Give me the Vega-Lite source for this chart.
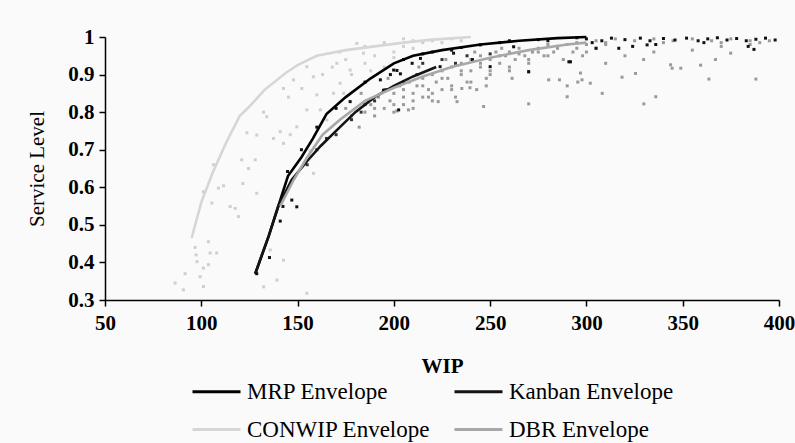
{
 "$schema": "https://vega.github.io/schema/vega-lite/v6.json",
 "width": 674, "height": 263,
 "autosize": {"type": "none"},
 "padding": {"left": 105, "top": 37, "right": 16, "bottom": 143},
 "background": "#fafafa",
 "config": {
  "font": "Liberation Serif, Times New Roman, DejaVu Serif, serif",
  "view": {"stroke": null},
  "axis": {"grid": false, "domainColor": "#000", "domainWidth": 1.5, "tickColor": "#000", "tickWidth": 1.5, "tickSize": 6,
   "labelFlush": false,
   "labelFont": "Liberation Serif, Times New Roman, serif", "labelFontSize": 21, "labelColor": "#000", "labelFontWeight": "bold",
   "titleFont": "Liberation Serif, Times New Roman, serif", "titleFontSize": 21, "titleColor": "#000", "titleFontWeight": "normal"},
  "legend": {"labelFont": "Liberation Serif, Times New Roman, serif"}
 },
 "datasets": {
  "env": [
   {"s":"MRP Envelope","x":128,"y":0.37},{"s":"MRP Envelope","x":135,"y":0.47},{"s":"MRP Envelope","x":140,"y":0.55},{"s":"MRP Envelope","x":145,"y":0.63},{"s":"MRP Envelope","x":152,"y":0.68},{"s":"MRP Envelope","x":158,"y":0.73},{"s":"MRP Envelope","x":165,"y":0.795},{"s":"MRP Envelope","x":175,"y":0.84},{"s":"MRP Envelope","x":188,"y":0.89},{"s":"MRP Envelope","x":200,"y":0.93},{"s":"MRP Envelope","x":210,"y":0.95},{"s":"MRP Envelope","x":225,"y":0.965},{"s":"MRP Envelope","x":245,"y":0.98},{"s":"MRP Envelope","x":265,"y":0.99},{"s":"MRP Envelope","x":285,"y":0.997},{"s":"MRP Envelope","x":300,"y":1.0},
   {"s":"Kanban Envelope","x":128,"y":0.37},{"s":"Kanban Envelope","x":135,"y":0.47},{"s":"Kanban Envelope","x":140,"y":0.55},{"s":"Kanban Envelope","x":147,"y":0.62},{"s":"Kanban Envelope","x":155,"y":0.67},{"s":"Kanban Envelope","x":162,"y":0.71},{"s":"Kanban Envelope","x":170,"y":0.75},{"s":"Kanban Envelope","x":180,"y":0.8},{"s":"Kanban Envelope","x":190,"y":0.84},{"s":"Kanban Envelope","x":200,"y":0.87},{"s":"Kanban Envelope","x":210,"y":0.895},{"s":"Kanban Envelope","x":222,"y":0.92},
   {"s":"CONWIP Envelope","x":95,"y":0.465},{"s":"CONWIP Envelope","x":100,"y":0.56},{"s":"CONWIP Envelope","x":106,"y":0.64},{"s":"CONWIP Envelope","x":113,"y":0.72},{"s":"CONWIP Envelope","x":120,"y":0.79},{"s":"CONWIP Envelope","x":125,"y":0.815},{"s":"CONWIP Envelope","x":133,"y":0.86},{"s":"CONWIP Envelope","x":144,"y":0.905},{"s":"CONWIP Envelope","x":150,"y":0.925},{"s":"CONWIP Envelope","x":160,"y":0.95},{"s":"CONWIP Envelope","x":175,"y":0.965},{"s":"CONWIP Envelope","x":190,"y":0.975},{"s":"CONWIP Envelope","x":205,"y":0.985},{"s":"CONWIP Envelope","x":220,"y":0.993},{"s":"CONWIP Envelope","x":240,"y":1.0},
   {"s":"DBR Envelope","x":141,"y":0.55},{"s":"DBR Envelope","x":148,"y":0.62},{"s":"DBR Envelope","x":155,"y":0.68},{"s":"DBR Envelope","x":163,"y":0.74},{"s":"DBR Envelope","x":172,"y":0.78},{"s":"DBR Envelope","x":185,"y":0.83},{"s":"DBR Envelope","x":200,"y":0.865},{"s":"DBR Envelope","x":215,"y":0.895},{"s":"DBR Envelope","x":230,"y":0.92},{"s":"DBR Envelope","x":250,"y":0.945},{"s":"DBR Envelope","x":270,"y":0.965},{"s":"DBR Envelope","x":290,"y":0.98},{"s":"DBR Envelope","x":300,"y":0.985}
  ],
  "pts": [
   {"m":"CONWIP","x":86.4,"y":0.345},{"m":"CONWIP","x":91.6,"y":0.37},{"m":"CONWIP","x":90.7,"y":0.327},{"m":"CONWIP","x":96.8,"y":0.44},{"m":"CONWIP","x":97.3,"y":0.42},{"m":"CONWIP","x":97.8,"y":0.402},{"m":"CONWIP","x":99.4,"y":0.362},{"m":"CONWIP","x":101.1,"y":0.336},{"m":"CONWIP","x":101.1,"y":0.385},{"m":"CONWIP","x":103.7,"y":0.394},{"m":"CONWIP","x":103.7,"y":0.455},{"m":"CONWIP","x":104.6,"y":0.425},{"m":"CONWIP","x":108,"y":0.425},{"m":"CONWIP","x":105.5,"y":0.558},{"m":"CONWIP","x":101.1,"y":0.588},{"m":"CONWIP","x":108.9,"y":0.598},{"m":"CONWIP","x":111.5,"y":0.604},{"m":"CONWIP","x":106.3,"y":0.66},{"m":"CONWIP","x":115,"y":0.549},{"m":"CONWIP","x":117.6,"y":0.544},{"m":"CONWIP","x":119.3,"y":0.522},{"m":"CONWIP","x":121,"y":0.673},{"m":"CONWIP","x":124.5,"y":0.65},{"m":"CONWIP","x":121.6,"y":0.61},{"m":"CONWIP","x":128.8,"y":0.584},{"m":"CONWIP","x":128,"y":0.673},{"m":"CONWIP","x":123.7,"y":0.745},{"m":"CONWIP","x":128.8,"y":0.739},{"m":"CONWIP","x":134,"y":0.788},{"m":"CONWIP","x":132.3,"y":0.8},{"m":"CONWIP","x":141,"y":0.748},{"m":"CONWIP","x":137.5,"y":0.73},{"m":"CONWIP","x":142.7,"y":0.717},{"m":"CONWIP","x":146.2,"y":0.74},{"m":"CONWIP","x":149.6,"y":0.761},{"m":"CONWIP","x":142.7,"y":0.863},{"m":"CONWIP","x":145.3,"y":0.84},{"m":"CONWIP","x":147.9,"y":0.886},{"m":"CONWIP","x":152.2,"y":0.863},{"m":"CONWIP","x":154.8,"y":0.921},{"m":"CONWIP","x":158.2,"y":0.894},{"m":"CONWIP","x":160,"y":0.846},{"m":"CONWIP","x":161.8,"y":0.806},{"m":"CONWIP","x":154.8,"y":0.806},{"m":"CONWIP","x":165.2,"y":0.779},{"m":"CONWIP","x":158.3,"y":0.637},{"m":"CONWIP","x":156.5,"y":0.697},{"m":"CONWIP","x":170.4,"y":0.93},{"m":"CONWIP","x":177.3,"y":0.912},{"m":"CONWIP","x":172.1,"y":0.877},{"m":"CONWIP","x":168.7,"y":0.85},{"m":"CONWIP","x":180.8,"y":0.983},{"m":"CONWIP","x":184.2,"y":0.957},{"m":"CONWIP","x":173.9,"y":0.85},{"m":"CONWIP","x":135.8,"y":0.433},{"m":"CONWIP","x":142.7,"y":0.406},{"m":"CONWIP","x":139.3,"y":0.353},{"m":"CONWIP","x":132.4,"y":0.335},{"m":"CONWIP","x":154.8,"y":0.318},{"m":"CONWIP","x":185,"y":0.93},{"m":"CONWIP","x":190,"y":0.95},{"m":"CONWIP","x":195,"y":0.92},{"m":"CONWIP","x":200,"y":0.96},{"m":"CONWIP","x":205,"y":0.975},{"m":"CONWIP","x":210,"y":0.97},{"m":"CONWIP","x":215,"y":0.985},{"m":"CONWIP","x":220,"y":0.99},{"m":"CONWIP","x":225,"y":0.985},{"m":"CONWIP","x":230,"y":0.995},{"m":"CONWIP","x":235,"y":0.99},{"m":"CONWIP","x":195,"y":0.985},{"m":"CONWIP","x":205,"y":0.995},{"m":"CONWIP","x":185,"y":0.975},{"m":"CONWIP","x":175,"y":0.94},{"m":"CONWIP","x":178,"y":0.9},{"m":"CONWIP","x":168,"y":0.92},{"m":"CONWIP","x":188,"y":0.91},{"m":"CONWIP","x":163,"y":0.9},{"m":"CONWIP","x":172,"y":0.96},{"m":"CONWIP","x":200,"y":0.945},{"m":"CONWIP","x":210,"y":0.99},
   {"m":"DBR","x":185,"y":0.8},{"m":"DBR","x":188,"y":0.82},{"m":"DBR","x":190,"y":0.79},{"m":"DBR","x":192,"y":0.84},{"m":"DBR","x":195,"y":0.81},{"m":"DBR","x":195,"y":0.86},{"m":"DBR","x":198,"y":0.83},{"m":"DBR","x":200,"y":0.85},{"m":"DBR","x":200,"y":0.8},{"m":"DBR","x":203,"y":0.87},{"m":"DBR","x":205,"y":0.82},{"m":"DBR","x":205,"y":0.84},{"m":"DBR","x":208,"y":0.88},{"m":"DBR","x":210,"y":0.85},{"m":"DBR","x":210,"y":0.81},{"m":"DBR","x":212,"y":0.87},{"m":"DBR","x":215,"y":0.89},{"m":"DBR","x":215,"y":0.84},{"m":"DBR","x":218,"y":0.86},{"m":"DBR","x":220,"y":0.9},{"m":"DBR","x":220,"y":0.83},{"m":"DBR","x":222,"y":0.88},{"m":"DBR","x":225,"y":0.91},{"m":"DBR","x":225,"y":0.86},{"m":"DBR","x":228,"y":0.89},{"m":"DBR","x":230,"y":0.92},{"m":"DBR","x":230,"y":0.87},{"m":"DBR","x":232,"y":0.84},{"m":"DBR","x":235,"y":0.9},{"m":"DBR","x":235,"y":0.93},{"m":"DBR","x":238,"y":0.88},{"m":"DBR","x":240,"y":0.94},{"m":"DBR","x":240,"y":0.91},{"m":"DBR","x":243,"y":0.86},{"m":"DBR","x":245,"y":0.92},{"m":"DBR","x":245,"y":0.95},{"m":"DBR","x":248,"y":0.89},{"m":"DBR","x":250,"y":0.94},{"m":"DBR","x":250,"y":0.91},{"m":"DBR","x":253,"y":0.96},{"m":"DBR","x":255,"y":0.93},{"m":"DBR","x":258,"y":0.95},{"m":"DBR","x":260,"y":0.92},{"m":"DBR","x":260,"y":0.96},{"m":"DBR","x":263,"y":0.94},{"m":"DBR","x":265,"y":0.97},{"m":"DBR","x":268,"y":0.95},{"m":"DBR","x":270,"y":0.93},{"m":"DBR","x":272,"y":0.96},{"m":"DBR","x":275,"y":0.97},{"m":"DBR","x":278,"y":0.95},{"m":"DBR","x":280,"y":0.98},{"m":"DBR","x":283,"y":0.96},{"m":"DBR","x":285,"y":0.97},{"m":"DBR","x":288,"y":0.94},{"m":"DBR","x":290,"y":0.98},{"m":"DBR","x":293,"y":0.96},{"m":"DBR","x":295,"y":0.97},{"m":"DBR","x":298,"y":0.95},{"m":"DBR","x":300,"y":0.98},{"m":"DBR","x":305,"y":0.97},{"m":"DBR","x":310,"y":0.98},{"m":"DBR","x":178,"y":0.79},{"m":"DBR","x":182,"y":0.76},{"m":"DBR","x":175,"y":0.81},{"m":"DBR","x":183,"y":0.85},{"m":"DBR","x":197,"y":0.89},{"m":"DBR","x":213,"y":0.92},{"m":"DBR","x":227,"y":0.94},{"m":"DBR","x":242,"y":0.96},{"m":"DBR","x":256,"y":0.97},
   {"m":"DBR","x":205,"y":0.86},{"m":"DBR","x":215,"y":0.87},{"m":"DBR","x":225,"y":0.89},{"m":"DBR","x":235,"y":0.91},{"m":"DBR","x":245,"y":0.93},{"m":"DBR","x":255,"y":0.95},{"m":"DBR","x":265,"y":0.955},{"m":"DBR","x":275,"y":0.96},{"m":"DBR","x":285,"y":0.975},{"m":"DBR","x":295,"y":0.985},{"m":"DBR","x":210,"y":0.83},{"m":"DBR","x":220,"y":0.85},{"m":"DBR","x":230,"y":0.86},{"m":"DBR","x":240,"y":0.88},{"m":"DBR","x":250,"y":0.9},{"m":"DBR","x":260,"y":0.91},{"m":"DBR","x":270,"y":0.94},{"m":"DBR","x":280,"y":0.95},{"m":"DBR","x":300,"y":0.96},{"m":"DBR","x":190,"y":0.81},{"m":"DBR","x":200,"y":0.82},
   {"m":"DBR","x":201.5,"y":0.803},{"m":"DBR","x":207.6,"y":0.806},{"m":"DBR","x":218,"y":0.84},{"m":"DBR","x":223,"y":0.828},{"m":"DBR","x":232.8,"y":0.828},{"m":"DBR","x":235.3,"y":0.863},{"m":"DBR","x":239.5,"y":0.865},{"m":"DBR","x":246.6,"y":0.815},{"m":"DBR","x":248,"y":0.87},{"m":"DBR","x":261.4,"y":0.89},{"m":"DBR","x":270,"y":0.822},{"m":"DBR","x":270,"y":0.906},{"m":"DBR","x":280.4,"y":0.886},{"m":"DBR","x":286,"y":0.886},{"m":"DBR","x":290,"y":0.841},{"m":"DBR","x":290,"y":0.87},{"m":"DBR","x":295.5,"y":0.88},{"m":"DBR","x":297.7,"y":0.886},{"m":"DBR","x":302,"y":0.877},{"m":"DBR","x":308.2,"y":0.85},{"m":"DBR","x":318.5,"y":0.893},{"m":"DBR","x":325.5,"y":0.903},{"m":"DBR","x":329.8,"y":0.822},{"m":"DBR","x":336,"y":0.841},{"m":"DBR","x":343.7,"y":0.926},{"m":"DBR","x":344.5,"y":0.917},{"m":"DBR","x":349,"y":0.917},{"m":"DBR","x":359.3,"y":0.925},{"m":"DBR","x":363.6,"y":0.888},{"m":"DBR","x":367,"y":0.94},{"m":"DBR","x":374.9,"y":0.957},{"m":"DBR","x":388,"y":0.888},{"m":"DBR","x":329.7,"y":0.94},{"m":"DBR","x":296.9,"y":0.904},{"m":"DBR","x":310,"y":0.93},{"m":"DBR","x":320,"y":0.95},{"m":"DBR","x":335,"y":0.96},{"m":"DBR","x":355,"y":0.965},{"m":"DBR","x":370,"y":0.975},{"m":"DBR","x":385,"y":0.98},{"m":"DBR","x":395,"y":0.99},{"m":"DBR","x":305,"y":0.99},{"m":"DBR","x":315,"y":0.995},{"m":"DBR","x":325,"y":0.99},{"m":"DBR","x":335,"y":0.995},{"m":"DBR","x":345,"y":0.99},{"m":"DBR","x":355,"y":0.995},{"m":"DBR","x":365,"y":0.99},{"m":"DBR","x":375,"y":0.995},{"m":"DBR","x":385,"y":0.99},{"m":"DBR","x":310,"y":0.985},{"m":"DBR","x":340,"y":0.985},{"m":"DBR","x":370,"y":0.985},{"m":"DBR","x":390,"y":0.985},
   {"m":"Kanban","x":155,"y":0.66},{"m":"Kanban","x":160,"y":0.7},{"m":"Kanban","x":165,"y":0.73},{"m":"Kanban","x":170,"y":0.74},{"m":"Kanban","x":178,"y":0.78},{"m":"Kanban","x":185,"y":0.82},{"m":"Kanban","x":190,"y":0.83},{"m":"Kanban","x":196,"y":0.86},{"m":"Kanban","x":205,"y":0.88},{"m":"Kanban","x":212,"y":0.9},{"m":"Kanban","x":183,"y":0.8},{"m":"Kanban","x":215,"y":0.93},{"m":"Kanban","x":225,"y":0.94},{"m":"Kanban","x":232,"y":0.93},{"m":"Kanban","x":238,"y":0.95},{"m":"Kanban","x":250,"y":0.955},
   {"m":"MRP","x":128.8,"y":0.37},{"m":"MRP","x":135.4,"y":0.413},{"m":"MRP","x":141,"y":0.51},{"m":"MRP","x":142.4,"y":0.549},{"m":"MRP","x":147,"y":0.566},{"m":"MRP","x":149.6,"y":0.548},{"m":"MRP","x":144.8,"y":0.642},{"m":"MRP","x":177.3,"y":0.828},{"m":"MRP","x":193,"y":0.886},{"m":"MRP","x":198.2,"y":0.9},{"m":"MRP","x":202.5,"y":0.806},{"m":"MRP","x":194.6,"y":0.858},{"m":"MRP","x":201.6,"y":0.911},{"m":"MRP","x":213.8,"y":0.943},{"m":"MRP","x":209.5,"y":0.93},{"m":"MRP","x":231,"y":0.957},{"m":"MRP","x":244.9,"y":0.979},{"m":"MRP","x":262.2,"y":0.974},{"m":"MRP","x":291.7,"y":0.934},{"m":"MRP","x":270,"y":0.908},{"m":"MRP","x":250,"y":0.921},{"m":"MRP","x":224,"y":0.921},{"m":"MRP","x":240.8,"y":0.94},{"m":"MRP","x":199.9,"y":0.912},{"m":"MRP","x":203.4,"y":0.902},{"m":"MRP","x":316.8,"y":0.97},{"m":"MRP","x":331.5,"y":0.979},{"m":"MRP","x":387,"y":0.967},{"m":"MRP","x":290.9,"y":0.934},
   {"m":"MRP","x":215,"y":0.955},{"m":"MRP","x":220,"y":0.96},{"m":"MRP","x":235,"y":0.972},{"m":"MRP","x":255,"y":0.985},{"m":"MRP","x":275,"y":0.993},{"m":"MRP","x":280,"y":0.99},{"m":"MRP","x":295,"y":0.998},{"m":"MRP","x":260,"y":0.99},{"m":"MRP","x":230,"y":0.965},{"m":"MRP","x":205,"y":0.94},{"m":"MRP","x":185,"y":0.88},{"m":"MRP","x":170,"y":0.81},{"m":"MRP","x":160,"y":0.76},{"m":"MRP","x":152,"y":0.7},
   {"m":"MRP","x":300,"y":0.995},{"m":"MRP","x":308,"y":0.99},{"m":"MRP","x":313,"y":0.997},{"m":"MRP","x":320,"y":0.993},{"m":"MRP","x":328,"y":0.997},{"m":"MRP","x":333,"y":0.99},{"m":"MRP","x":340,"y":0.996},{"m":"MRP","x":346,"y":0.992},{"m":"MRP","x":352,"y":0.997},{"m":"MRP","x":358,"y":0.99},{"m":"MRP","x":363,"y":0.995},{"m":"MRP","x":368,"y":0.998},{"m":"MRP","x":373,"y":0.992},{"m":"MRP","x":378,"y":0.996},{"m":"MRP","x":383,"y":0.99},{"m":"MRP","x":388,"y":0.994},{"m":"MRP","x":393,"y":0.997},{"m":"MRP","x":398,"y":0.992},{"m":"MRP","x":303,"y":0.985},{"m":"MRP","x":336,"y":0.98},{"m":"MRP","x":361,"y":0.985},{"m":"MRP","x":384,"y":0.975},{"m":"MRP","x":305,"y":0.97},{"m":"MRP","x":324,"y":0.975}
  ]
 },
 "encoding": {
  "x": {"field": "x", "type": "quantitative", "scale": {"domain": [50, 400], "nice": false, "zero": false},
   "axis": {"values": [50,100,150,200,250,300,350,400], "title": "WIP", "titleFontWeight": "bold", "labelPadding": 6, "titlePadding": 22, "labelOverlap": false}},
  "y": {"field": "y", "type": "quantitative", "scale": {"domain": [0.3, 1], "nice": false, "zero": false},
   "axis": {"values": [0.3,0.4,0.5,0.6,0.7,0.8,0.9,1.0], "labelExpr": "datum.value == 1 ? '1' : format(datum.value, '.1f')", "title": "Service Level", "labelPadding": 5, "titlePadding": 20, "labelOverlap": false, "labelSeparation": 0}}
 },
 "layer": [
  {
   "data": {"name": "pts"},
   "mark": {"type": "point", "shape": "square", "filled": true, "size": 9, "opacity": 1},
   "encoding": {
    "color": {"field": "m", "type": "nominal", "scale": {"domain": ["MRP","Kanban","CONWIP","DBR"], "range": ["#111111","#333333","#cfcfcf","#9a9a9a"]}, "legend": null}
   }
  },
  {
   "data": {"name": "env"},
   "mark": {"type": "line", "strokeWidth": 2.6},
   "encoding": {
    "color": {"field": "s", "type": "nominal",
     "scale": {"domain": ["MRP Envelope","Kanban Envelope","CONWIP Envelope","DBR Envelope"], "range": ["#000000","#141414","#d6d6d6","#a8a8a8"]},
     "legend": {"title": null, "orient": "none", "legendX": 86, "legendY": 329, "columns": 2, "direction": "horizontal",
      "symbolType": "stroke", "symbolSize": 2304, "symbolStrokeWidth": 3, "labelFontSize": 23, "labelColor": "#000",
      "labelOffset": 5, "rowPadding": -9, "columnPadding": 17, "labelLimit": 400}}
   }
  }
 ],
 "resolve": {"scale": {"color": "independent"}}
}
